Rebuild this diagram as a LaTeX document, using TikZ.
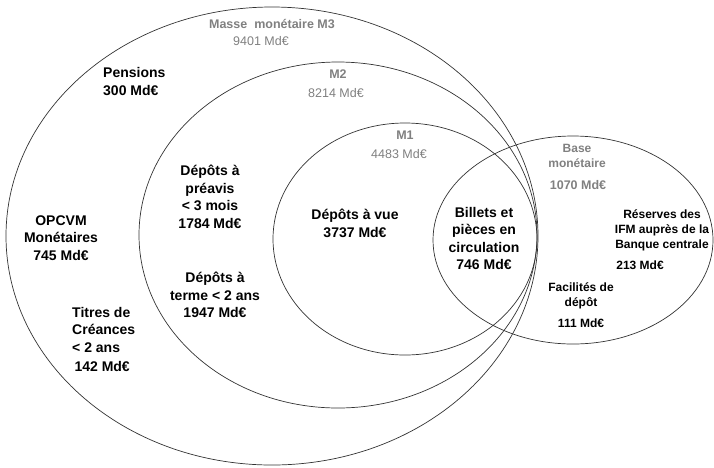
\documentclass[tikz,border=0pt]{standalone}
\usepackage{fontspec}
\setmainfont{Liberation Sans}
\usetikzlibrary{shapes.geometric}
\tikzset{
    zone/.style={draw=black!80, ellipse, line width=0.7pt, inner sep=0pt},
    aggname/.style={text=gray, align=center, font=\fontsize{12.5}{15}\selectfont\bfseries},
    aggval/.style={text=gray, font=\fontsize{12.5}{15}\selectfont},
    part/.style={align=center, inner sep=0pt, font=\fontsize{14}{17.5}\selectfont\bfseries},
    partleft/.style={align=left, inner sep=0pt, anchor=west, font=\fontsize{14}{17.5}\selectfont\bfseries},
    basepart/.style={align=center, inner sep=0pt, font=\fontsize{12}{15}\selectfont\bfseries} }

\begin{document}
\begin{tikzpicture}[x=1pt, y=-1pt]
			\useasboundingbox (0,0) rectangle (714,467);
			\node[zone, minimum width=532pt, minimum height=458pt] (M3) at (272,236) {};
			\node[zone, minimum width=398pt, minimum height=346pt] (M2) at (338,235) {};
			\node[zone, minimum width=264pt, minimum height=232pt] (M1) at (405,239) {};
			\node[zone, minimum width=280pt, minimum height=208pt] (BASE) at (573,240) {};
			% ----
			\node[aggname] (M3name) at (272,24) {Masse\ \ monétaire M3};
			\node[aggval] (M3val) at (261,41) {9401 Md€};
			\node[aggname] (M2name) at (338,74) {M2};
			\node[aggval] (M2val) at (336,93) {8214 Md€};
			\node[aggname] (M1name) at (405,135) {M1};
			\node[aggval] (M1val) at (399,154) {4483 Md€};
			\node[aggname, font=\fontsize{12}{15}\selectfont\bfseries] (BASEname) at (577,155.5) {Base\\monétaire};
			\node[aggname] (BASEval) at (578,185) {1070 Md€};
			% ----
			\node[partleft] (pensions) at (103,81.5) {Pensions\\300 Md€};
			\node[part] (opcvm) at (61,238) {OPCVM\\Monétaires\\745 Md€};
			\node[partleft] (titres) at (72,339.5) {Titres de\\Créances\\< 2 ans\\[2pt]\,142 Md€};
			\node[part] (preavis) at (210,197) {Dépôts à\\préavis\\< 3 mois\\1784 Md€};
			\node[part] (terme) at (215,295) {Dépôts à\\terme < 2 ans\\1947 Md€};
			\node[part] (vue) at (355,223.5) {Dépôts à vue\\3737 Md€};
			\node[part] (billets) at (484,238.5) {Billets et\\pièces en\\circulation\\746 Md€};
			\node[basepart] (reserves) at (662,230) {Réserves des\\IFM auprès de la\\Banque centrale};
			\node[basepart] (reservesval) at (640,265) {213 Md€};
			\node[basepart] (facilites) at (581,295.5) {Facilités de\\dépôt};
			\node[basepart] (facilitesval) at (581,323) {111 Md€};
		\end{tikzpicture}
\end{document}
